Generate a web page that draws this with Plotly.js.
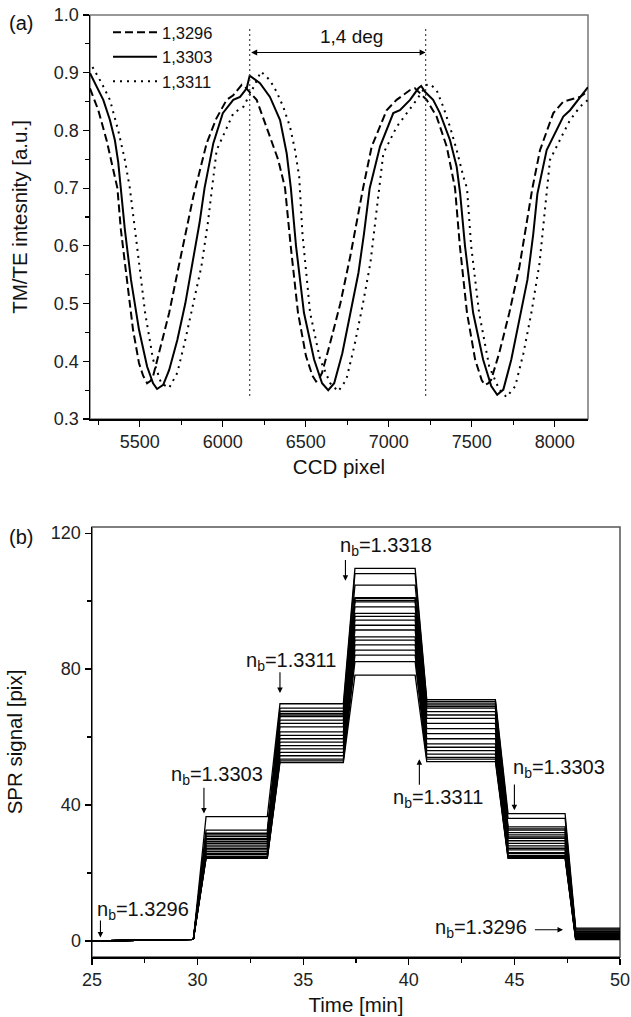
<!DOCTYPE html>
<html><head><meta charset="utf-8">
<script src="https://cdn.plot.ly/plotly-3.0.1.min.js"></script>
<style>html,body{margin:0;padding:0;background:#fff;} #chart{width:631px;height:1017px;}</style>
</head><body><div id="chart"></div>
<script>
// ---------- Panel (a): TM/TE intensity vs CCD pixel ----------
const seriesNames = ['1,3296', '1,3303', '1,3311'];

const dashX = [5200,5250,5300,5350,5365,5386,5422,5459,5495,5520,5544,5565,5580,5616,5677,5726,5774,5822,5903,5960,6023,6063,6114,6135,6204,6264,6334,6375,6409,6453,6501,6540,6562,6580,6598,6647,6708,6768,6817,6845,6897,6987,7047,7128,7158,7228,7288,7349,7399,7428,7471,7520,7560,7580,7600,7617,7665,7726,7787,7835,7865,7911,7991,8051,8092,8152,8200];
const dashY = [0.873,0.835,0.783,0.72,0.70,0.628,0.541,0.455,0.397,0.375,0.362,0.366,0.374,0.414,0.484,0.553,0.62,0.685,0.778,0.82,0.853,0.861,0.879,0.875,0.853,0.806,0.749,0.70,0.60,0.484,0.409,0.375,0.365,0.37,0.38,0.432,0.50,0.582,0.657,0.70,0.772,0.835,0.853,0.87,0.873,0.853,0.824,0.772,0.70,0.60,0.484,0.403,0.367,0.359,0.362,0.368,0.414,0.484,0.564,0.645,0.70,0.766,0.83,0.85,0.853,0.858,0.868];

const solidX = [5200,5240,5280,5320,5350,5370,5385,5410,5447,5495,5544,5580,5604,5641,5677,5726,5774,5822,5860,5890,5943,6000,6063,6104,6144,6162,6185,6224,6284,6345,6385,6410,6441,6489,6550,6598,6635,6671,6720,6768,6817,6850,6885,6947,7027,7067,7128,7178,7195,7218,7267,7308,7369,7409,7430,7459,7508,7568,7617,7653,7690,7738,7787,7835,7870,7895,7951,8051,8092,8152,8200];
const solidY = [0.899,0.876,0.853,0.818,0.783,0.745,0.70,0.628,0.541,0.455,0.391,0.362,0.352,0.359,0.385,0.437,0.50,0.575,0.64,0.70,0.778,0.83,0.853,0.858,0.873,0.895,0.89,0.882,0.858,0.818,0.76,0.70,0.60,0.484,0.403,0.362,0.350,0.362,0.414,0.484,0.553,0.62,0.70,0.772,0.83,0.835,0.853,0.873,0.877,0.867,0.853,0.83,0.783,0.737,0.69,0.60,0.484,0.403,0.357,0.342,0.351,0.403,0.472,0.541,0.62,0.69,0.766,0.824,0.835,0.858,0.875];

const dotX = [5215,5270,5320,5370,5410,5440,5483,5532,5580,5629,5677,5726,5774,5822,5871,5910,5935,5963,6064,6124,6185,6230,6284,6324,6364,6405,6435,6460,6480,6526,6586,6647,6695,6744,6792,6841,6889,6926,6945,6967,7047,7108,7168,7228,7250,7288,7328,7369,7409,7449,7471,7496,7544,7605,7665,7709,7762,7811,7859,7908,7940,7971,8051,8092,8152,8200];
const dotY = [0.91,0.882,0.853,0.80,0.749,0.70,0.60,0.484,0.403,0.362,0.354,0.38,0.437,0.50,0.564,0.64,0.70,0.766,0.83,0.841,0.875,0.902,0.887,0.867,0.841,0.806,0.766,0.72,0.62,0.484,0.403,0.362,0.348,0.368,0.426,0.495,0.57,0.657,0.70,0.76,0.806,0.83,0.853,0.879,0.88,0.87,0.841,0.806,0.766,0.72,0.70,0.60,0.484,0.391,0.351,0.338,0.357,0.414,0.484,0.57,0.66,0.749,0.795,0.818,0.841,0.853];

// resonance peaks marked by vertical dotted lines (CCD pixel)
const peakMarks = [6162, 7222];
const peakLabel = '1,4 deg';

// ---------- Panel (b): SPR signal vs time ----------
const stepTimes = [25, 27.5, 29.8, 30.4, 33.3, 33.9, 36.9, 37.45, 40.3, 40.85, 44.1, 44.7, 47.4, 47.9, 50];
const baseline = [0, 0.3, 0.5];
const lvl1  = [36.6,32.6,31.7,31.2,30.8,30.2,29.8,29.2,28.7,28.2,27.7,27.2,26.8,26.3,25.8,25.4,24.9,24.6,24.4,24.3];
const lvl2  = [69.8,68.5,67.6,67.0,66.5,66.0,65.0,64.0,63.0,61.5,60.5,59.5,58.5,57.5,56.5,55.5,54.5,53.5,53.0,52.5];
const lvl3  = [109.6,108.1,104.7,101.0,100.8,100.2,99.8,98.3,96.4,95.5,94.4,92.9,91.5,89.5,88.5,87.1,85.6,84.1,82.2,78.2];
const lvl2b = [71.0,70.5,70.0,69.5,69.0,68.5,67.5,66.5,65.5,64.0,62.5,61.0,59.5,58.0,57.0,56.0,55.0,54.0,53.5,52.8];
const lvl1b = [37.5,36.1,33.6,33.0,32.6,31.9,31.2,30.6,30.2,29.5,28.7,28.0,27.3,26.8,26.0,25.8,25.2,24.8,24.5,24.3];
const lvl0  = [3.8,3.2,2.8,3.5,2.2,1.8,2.6,1.5,2.0,1.2,2.4,1.0,1.7,0.8,1.4,0.6,1.1,0.5,0.9,0.4];

// labels: [text, x, y]
const nbLabels = [
  ['n<sub>b</sub>=1.3296', 27.4, 9.0],
  ['n<sub>b</sub>=1.3303', 30.9, 48.8],
  ['n<sub>b</sub>=1.3311', 34.4, 82.2],
  ['n<sub>b</sub>=1.3318', 38.9, 116.0],
  ['n<sub>b</sub>=1.3311', 41.4, 42.0],
  ['n<sub>b</sub>=1.3303', 47.1, 50.8],
  ['n<sub>b</sub>=1.3296', 43.4, 3.7]
];
// arrows: [tailX, tailY, tipX, tipY]
const nbArrows = [
  [25.4, 6.5, 25.4, 1.0],
  [30.3, 45.5, 30.3, 37.5],
  [33.9, 79.5, 33.9, 73.0],
  [37.0, 112.5, 37.0, 106.0],
  [40.5, 45.5, 40.5, 53.5],
  [45.0, 46.5, 45.0, 38.5],
  [45.9, 3.3, 47.3, 3.3]
];

const FONT = 'Liberation Sans, Arial, sans-serif';
const traces = [];
traces.push({x: dashX, y: dashY, name: seriesNames[0], mode: 'lines', xaxis: 'x', yaxis: 'y',
  line: {color: '#000', width: 2, dash: '8px,4px'}});
traces.push({x: solidX, y: solidY, name: seriesNames[1], mode: 'lines', xaxis: 'x', yaxis: 'y',
  line: {color: '#000', width: 2}});
traces.push({x: dotX, y: dotY, name: seriesNames[2], mode: 'lines', xaxis: 'x', yaxis: 'y',
  line: {color: '#000', width: 2, dash: '2px,5px'}});

for (let i = 0; i < lvl1.length; i++) {
  const y = baseline.concat([lvl1[i], lvl1[i], lvl2[i], lvl2[i], lvl3[i], lvl3[i],
    lvl2b[i], lvl2b[i], lvl1b[i], lvl1b[i], lvl0[i], lvl0[i]]);
  traces.push({x: stepTimes, y: y, mode: 'lines', xaxis: 'x2', yaxis: 'y2', showlegend: false,
    hoverinfo: 'skip', line: {color: '#000', width: 1.3}});
}

const annotations = [];
annotations.push({text: '(a)', xref: 'paper', yref: 'paper', x: 21/631, y: 1 - 23/1017,
  xanchor: 'center', yanchor: 'middle',
  showarrow: false, font: {family: FONT, size: 20, color: '#111'}});
annotations.push({text: '(b)', xref: 'paper', yref: 'paper', x: 21/631, y: 1 - 537/1017,
  xanchor: 'center', yanchor: 'middle',
  showarrow: false, font: {family: FONT, size: 20, color: '#111'}});
annotations.push({text: peakLabel, xref: 'x', yref: 'y', x: 6777, y: 0.963, showarrow: false,
  xanchor: 'center', yanchor: 'middle',
  font: {family: FONT, size: 19, color: '#111'}});
annotations.push({text: '', xref: 'x', yref: 'y', axref: 'x', ayref: 'y',
  x: peakMarks[1], y: 0.935, ax: peakMarks[0], ay: 0.935, showarrow: true,
  arrowhead: 2, startarrowhead: 2, arrowside: 'end+start', arrowsize: 1, arrowwidth: 1.2, arrowcolor: '#000',
  standoff: 0, startstandoff: 0});
nbLabels.forEach(function (l) {
  annotations.push({text: l[0], xref: 'x2', yref: 'y2', x: l[1], y: l[2], showarrow: false,
    xanchor: 'center', yanchor: 'middle', font: {family: FONT, size: 20, color: '#111'}});
});
nbArrows.forEach(function (a) {
  annotations.push({text: '', xref: 'x2', yref: 'y2', axref: 'x2', ayref: 'y2',
    x: a[2], y: a[3], ax: a[0], ay: a[1], showarrow: true, arrowhead: 2, arrowsize: 1,
    arrowwidth: 1.1, arrowcolor: '#000', standoff: 0});
});

const shapes = [];
peakMarks.forEach(function (p) {
  shapes.push({type: 'line', xref: 'x', yref: 'y', x0: p, x1: p, y0: 0.34, y1: 0.98,
    line: {color: '#444', width: 1.2, dash: '2px,3px'}});
});
shapes.push({type: 'rect', xref: 'x domain', yref: 'y domain', x0: 0, x1: 1, y0: 0, y1: 1,
  line: {color: '#777', width: 1.5}, layer: 'below'});
shapes.push({type: 'rect', xref: 'x2 domain', yref: 'y2 domain', x0: 0, x1: 1, y0: 0, y1: 1,
  line: {color: '#555', width: 1.5}, layer: 'below'});

const axBase = {showline: true, linecolor: '#000', linewidth: 1.5, ticks: 'outside', ticklen: 6,
  tickwidth: 1.2, tickcolor: '#000', showgrid: false, zeroline: false,
  tickfont: {family: FONT, size: 18, color: '#222'}};
const titleFont = {family: FONT, size: 20.5, color: '#111'};

const layout = {
  width: 631, height: 1017,
  margin: {l: 0, r: 0, t: 0, b: 0},
  paper_bgcolor: '#fff', plot_bgcolor: 'rgba(0,0,0,0)',
  font: {family: FONT, color: '#111'},
  showlegend: true,
  legend: {x: 108/631, y: 1 - 15/1017, xanchor: 'left', yanchor: 'top', bgcolor: 'rgba(0,0,0,0)',
    font: {family: FONT, size: 16.5, color: '#111'}, itemwidth: 44, tracegroupgap: 0},
  xaxis: Object.assign({}, axBase, {domain: [90/631, 588/631], range: [5200, 8200], anchor: 'y',
    tick0: 5500, dtick: 500,
    minor: {dtick: 250, tick0: 5250, ticks: 'outside', ticklen: 4, tickcolor: '#000'},
    title: {text: 'CCD pixel', font: titleFont, standoff: 8}}),
  yaxis: Object.assign({}, axBase, {domain: [1 - 419/1017, 1 - 15/1017], range: [0.3, 1.0], anchor: 'x',
    tick0: 0.3, dtick: 0.1, tickformat: '.1f',
    minor: {dtick: 0.05, ticks: 'outside', ticklen: 4, tickcolor: '#000'},
    title: {text: 'TM/TE intesnity [a.u.]', font: titleFont, standoff: 20}}),
  xaxis2: Object.assign({}, axBase, {domain: [92/631, 620/631], range: [25, 50], anchor: 'y2',
    tick0: 25, dtick: 5,
    minor: {dtick: 2.5, ticks: 'outside', ticklen: 4, tickcolor: '#000'},
    title: {text: 'Time [min]', font: titleFont, standoff: 8}}),
  yaxis2: Object.assign({}, axBase, {domain: [1 - 957/1017, 1 - 527/1017], range: [-4.7, 121.8], anchor: 'x2',
    tick0: 0, dtick: 40,
    minor: {dtick: 20, ticks: 'outside', ticklen: 4, tickcolor: '#000'},
    title: {text: 'SPR signal [pix]', font: titleFont, standoff: 22}}),
  annotations: annotations,
  shapes: shapes
};

Plotly.newPlot('chart', traces, layout, {displayModeBar: false, staticPlot: true});
</script>
</body></html>
